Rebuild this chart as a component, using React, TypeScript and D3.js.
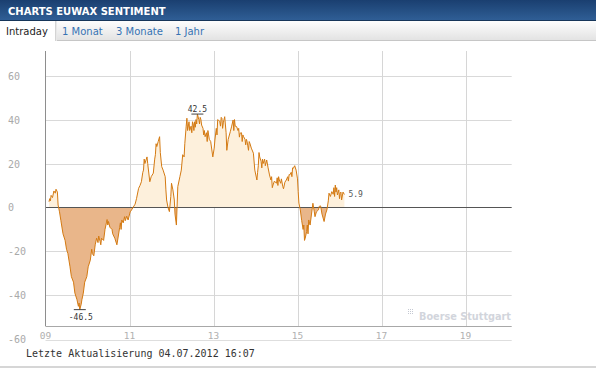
import React, { useEffect, useRef } from 'react';
import * as d3 from 'd3';

const title = 'CHARTS EUWAX SENTIMENT';
const tabs = ['Intraday', '1 Monat', '3 Monate', '1 Jahr'];
const yTicks = [60, 40, 20, 0, -20, -40, -60];
const xTicks = ['09:00', '11:00', '13:00', '15:00', '17:00', '19:00'];
const updated = 'Letzte Aktualisierung 04.07.2012 16:07';

// intraday sentiment (time, value)
const sentiment: [string, number][] = [
  ['09:05', 2.6], ['09:06', 4], ['09:07', 3], ['09:08', 5.5], ['09:10', 4.5], ['09:12', 7.5],
  ['09:14', 6.5], ['09:15', 8.3], ['09:17', 7], ['09:18', 1.1], ['09:20', -2], ['09:22', -6],
  ['09:25', -12], ['09:28', -15], ['09:30', -19], ['09:32', -21], ['09:35', -27], ['09:37', -31.5],
  ['09:40', -34], ['09:42', -39], ['09:45', -42], ['09:47', -45], ['09:48', -43.5], ['09:49', -46.5],
  ['09:51', -44], ['09:52', -42], ['09:54', -39], ['09:56', -34], ['09:59', -31.5], ['10:01', -27],
  ['10:04', -24], ['10:06', -19], ['10:07', -21], ['10:09', -22], ['10:11', -17], ['10:13', -14],
  ['10:15', -16], ['10:16', -13], ['10:18', -15.5], ['10:19', -17], ['10:20', -14], ['10:23', -15],
  ['10:25', -10], ['10:27', -7], ['10:28', -5.5], ['10:29', -8], ['10:30', -6.4], ['10:32', -9],
  ['10:35', -10], ['10:36', -12], ['10:39', -14], ['10:42', -17], ['10:44', -13], ['10:46', -9],
  ['10:47', -7], ['10:48', -10], ['10:49', -5.7], ['10:51', -7], ['10:53', -4.2], ['10:54', -6],
  ['10:56', -4], ['10:58', -5.7], ['11:01', -2], ['11:03', -1.1], ['11:08', 1.5], ['11:10', 4],
  ['11:13', 8.7], ['11:15', 10], ['11:17', 11.7], ['11:19', 16], ['11:20', 17], ['11:21', 22],
  ['11:22', 20], ['11:25', 23], ['11:26', 20], ['11:29', 11.7], ['11:31', 14], ['11:34', 15.6],
  ['11:36', 22], ['11:37', 24], ['11:38', 29], ['11:39', 27.7], ['11:41', 30], ['11:43', 32.2],
  ['11:44', 25], ['11:46', 18.6], ['11:48', 17], ['11:51', 14], ['11:52', 8], ['11:53', 3.4],
  ['11:55', 0], ['11:57', -1.9], ['11:59', 5], ['12:00', 11], ['12:02', 8], ['12:04', 3.4],
  ['12:05', -3], ['12:07', -8], ['12:09', 9.5], ['12:12', 14], ['12:14', 17], ['12:16', 24],
  ['12:18', 23], ['12:19', 29], ['12:21', 37], ['12:22', 40.6], ['12:23', 35], ['12:25', 39],
  ['12:26', 35], ['12:28', 37], ['12:29', 34], ['12:30', 39], ['12:31', 38], ['12:32', 35],
  ['12:33', 39], ['12:34', 36.5], ['12:35', 40], ['12:36', 38], ['12:37', 42.5], ['12:39', 40],
  ['12:40', 38], ['12:41', 41], ['12:42', 40], ['12:43', 37.5], ['12:45', 36], ['12:46', 33],
  ['12:47', 35], ['12:48', 32.2], ['12:50', 34], ['12:51', 30], ['12:52', 35], ['12:53', 33],
  ['12:54', 31], ['12:56', 30], ['12:59', 23], ['13:01', 27], ['13:02', 30.7], ['13:04', 36],
  ['13:05', 33], ['13:06', 40], ['13:07', 39.8], ['13:09', 39], ['13:10', 37], ['13:11', 41],
  ['13:12', 40.6], ['13:13', 36], ['13:14', 38.5], ['13:16', 41.3], ['13:18', 34], ['13:19', 26],
  ['13:21', 31], ['13:24', 34.5], ['13:26', 37], ['13:28', 39.8], ['13:29', 35], ['13:30', 40],
  ['13:31', 37], ['13:33', 36.8], ['13:35', 35], ['13:36', 36], ['13:37', 32], ['13:38', 33.8],
  ['13:40', 34], ['13:41', 30], ['13:42', 33], ['13:43', 32.2], ['13:45', 31], ['13:46', 28.5],
  ['13:47', 31], ['13:48', 30], ['13:49', 28], ['13:50', 26], ['13:51', 30], ['13:52', 29.2],
  ['13:54', 27], ['13:57', 24.7], ['13:59', 17], ['14:02', 12.5], ['14:03', 16], ['14:04', 19],
  ['14:05', 25], ['14:06', 23], ['14:08', 21], ['14:09', 18], ['14:10', 22], ['14:11', 20],
  ['14:13', 22], ['14:14', 19], ['14:16', 21.6], ['14:18', 18], ['14:20', 14.8], ['14:22', 12.5],
  ['14:23', 14], ['14:24', 9], ['14:25', 10.2], ['14:27', 12], ['14:30', 11], ['14:31', 13.5],
  ['14:32', 10], ['14:33', 14], ['14:34', 12.5], ['14:36', 11], ['14:37', 13], ['14:39', 9.5],
  ['14:40', 8.5], ['14:42', 11.5], ['14:44', 12.5], ['14:46', 14], ['14:47', 12], ['14:48', 15],
  ['14:49', 14.8], ['14:51', 16], ['14:52', 14], ['14:53', 18], ['14:54', 17.8], ['14:56', 19],
  ['14:58', 17], ['15:00', 13], ['15:01', 7.2], ['15:02', 2], ['15:04', -1.1], ['15:06', -6],
  ['15:08', -10], ['15:09', -8], ['15:10', -15], ['15:11', -14], ['15:13', -11], ['15:14', -8],
  ['15:15', -12], ['15:16', -5.7], ['15:18', -8], ['15:20', -3], ['15:22', 1.9], ['15:24', -2],
  ['15:25', -4.2], ['15:27', -2], ['15:30', -1.1], ['15:31', 0.5], ['15:33', 0.7], ['15:35', -3],
  ['15:38', -6.4], ['15:40', -3], ['15:42', -1.1], ['15:44', 3], ['15:45', 6.5], ['15:47', 5],
  ['15:49', 7.2], ['15:51', 6], ['15:52', 9], ['15:53', 5], ['15:54', 10.2], ['15:55', 7],
  ['15:56', 9], ['15:57', 5.7], ['15:59', 8], ['16:00', 4], ['16:01', 6.5], ['16:02', 7],
  ['16:03', 3.4], ['16:05', 7], ['16:07', 5.9]
];

const MONO = '"DejaVu Sans Mono", monospace';
const SANS = '"DejaVu Sans", Verdana, sans-serif';

export default function App() {
  const svgRef = useRef<SVGSVGElement>(null);

  useEffect(() => {
    if (!svgRef.current) return;
    const svg = d3.select(svgRef.current);
    svg.selectAll('*').remove();

    const width = 596;
    const parse = d3.timeParse('%H:%M');
    const data = sentiment.map(([t, v]) => ({ date: parse(t) as Date, value: v }));

    const left = 45.5;
    const right = 511.7;
    const top = 51;
    const bottomValue = -54;

    const x = d3.scaleTime()
      .domain([parse('09:00') as Date, parse('20:06') as Date])
      .range([left, right]);
    const y = d3.scaleLinear().domain([-60, 71.2]).range([339.3, top]);
    const y0 = y(0);
    const plotBottom = y(bottomValue);

    const defs = svg.append('defs');
    const hg = defs.append('linearGradient').attr('id', 'headGrad').attr('x1', 0).attr('y1', 0).attr('x2', 0).attr('y2', 1);
    hg.append('stop').attr('offset', '0%').attr('stop-color', '#1a3f70');
    hg.append('stop').attr('offset', '100%').attr('stop-color', '#2f5e95');
    const tg = defs.append('linearGradient').attr('id', 'tabGrad').attr('x1', 0).attr('y1', 0).attr('x2', 0).attr('y2', 1);
    tg.append('stop').attr('offset', '0%').attr('stop-color', '#fdfdfd');
    tg.append('stop').attr('offset', '100%').attr('stop-color', '#e3e3e3');
    defs.append('clipPath').attr('id', 'clipPos').append('rect')
      .attr('x', left).attr('y', top).attr('width', right - left).attr('height', y0 - top);
    defs.append('clipPath').attr('id', 'clipNeg').append('rect')
      .attr('x', left).attr('y', y0).attr('width', right - left).attr('height', plotBottom - y0);

    svg.append('rect').attr('width', width).attr('height', 373).attr('fill', '#fff');

    // header
    svg.append('rect').attr('x', 0).attr('y', 0).attr('width', width).attr('height', 20).attr('fill', 'url(#headGrad)');
    svg.append('line').attr('x1', 0).attr('x2', width).attr('y1', 20.5).attr('y2', 20.5).attr('stroke', '#163559');
    svg.append('text').attr('x', 8).attr('y', 14.5)
      .attr('fill', '#fff').attr('font-family', SANS).attr('font-weight', 'bold').attr('font-size', 10)
      .text(title);

    // tabs
    svg.append('rect').attr('x', 0).attr('y', 21).attr('width', width).attr('height', 19).attr('fill', 'url(#tabGrad)');
    svg.append('line').attr('x1', 0).attr('x2', width).attr('y1', 40.5).attr('y2', 40.5).attr('stroke', '#c6c6c6');
    svg.append('rect').attr('x', 0).attr('y', 21).attr('width', 55).attr('height', 20).attr('fill', '#fff');
    svg.append('line').attr('x1', 55.5).attr('x2', 55.5).attr('y1', 21).attr('y2', 41).attr('stroke', '#d4d4d4');
    svg.append('line').attr('x1', 56.5).attr('x2', 56.5).attr('y1', 21).attr('y2', 41).attr('stroke', '#e8e8e8');
    const tabX = [6, 62, 116, 175];
    tabs.forEach((t, i) => {
      svg.append('text').attr('x', tabX[i]).attr('y', 35)
        .attr('font-family', SANS).attr('font-size', 10)
        .attr('fill', i === 0 ? '#222' : '#3673b3')
        .text(t);
    });

    const g = svg.append('g');

    // grid
    g.selectAll('line.hgrid').data(yTicks.filter(d => d !== 0 && y(d) < plotBottom)).join('line')
      .attr('x1', left).attr('x2', right)
      .attr('y1', d => Math.round(y(d)) + 0.5).attr('y2', d => Math.round(y(d)) + 0.5)
      .attr('stroke', '#d9d9d9');
    g.selectAll('line.vgrid').data(xTicks.slice(1)).join('line')
      .attr('x1', d => Math.round(x(parse(d) as Date)) + 0.5).attr('x2', d => Math.round(x(parse(d) as Date)) + 0.5)
      .attr('y1', top).attr('y2', plotBottom)
      .attr('stroke', '#d6d6d6');

    // areas
    const area = d3.area<{ date: Date; value: number }>()
      .x(d => x(d.date)).y0(y0).y1(d => y(d.value));
    g.append('path').datum(data).attr('d', area).attr('fill', '#fdf0dc').attr('clip-path', 'url(#clipPos)');
    g.append('path').datum(data).attr('d', area).attr('fill', '#e9b68a').attr('clip-path', 'url(#clipNeg)');

    // zero line
    g.append('line').attr('x1', left).attr('x2', right)
      .attr('y1', Math.round(y0) + 0.5).attr('y2', Math.round(y0) + 0.5)
      .attr('stroke', '#555');

    const line = d3.line<{ date: Date; value: number }>().x(d => x(d.date)).y(d => y(d.value));
    g.append('path').datum(data).attr('d', line)
      .attr('fill', 'none').attr('stroke', '#d47a12').attr('stroke-width', 1).attr('stroke-linejoin', 'round');

    // axes frame
    g.append('line').attr('x1', left).attr('x2', left).attr('y1', top).attr('y2', plotBottom).attr('stroke', '#8e8e8e');
    g.append('line').attr('x1', left).attr('x2', right)
      .attr('y1', Math.round(plotBottom) + 0.5).attr('y2', Math.round(plotBottom) + 0.5).attr('stroke', '#a8a8a8');
    g.append('line').attr('x1', left).attr('x2', right).attr('y1', 340.5).attr('y2', 340.5).attr('stroke', '#dedede');

    // tick labels
    g.selectAll('text.ylab').data(yTicks).join('text')
      .attr('x', 8).attr('y', d => y(d) + 4)
      .attr('font-family', MONO).attr('font-size', 10).attr('fill', '#a9a9a9')
      .text(d => String(d));
    g.selectAll('text.xlab').data(xTicks).join('text')
      .attr('x', d => x(parse(d) as Date)).attr('y', 339)
      .attr('text-anchor', 'middle')
      .attr('font-family', MONO).attr('font-size', 9.5).attr('fill', '#b0b0b0')
      .text(d => d.slice(0, 2));

    // min / max / last
    const maxD = data.reduce((a, b) => (b.value > a.value ? b : a));
    const minD = data.reduce((a, b) => (b.value < a.value ? b : a));
    const lastD = data[data.length - 1];

    g.append('line').attr('x1', x(maxD.date) - 6).attr('x2', x(maxD.date) + 6)
      .attr('y1', y(maxD.value)).attr('y2', y(maxD.value)).attr('stroke', '#444');
    g.append('text').attr('x', x(maxD.date)).attr('y', y(maxD.value) - 2)
      .attr('text-anchor', 'middle').attr('font-family', MONO).attr('font-size', 8).attr('fill', '#333')
      .text(maxD.value.toFixed(1));

    g.append('line').attr('x1', x(minD.date) - 6).attr('x2', x(minD.date) + 6)
      .attr('y1', y(minD.value)).attr('y2', y(minD.value)).attr('stroke', '#444');
    g.append('text').attr('x', x(minD.date) + 1).attr('y', y(minD.value) + 10)
      .attr('text-anchor', 'middle').attr('font-family', MONO).attr('font-size', 8).attr('fill', '#333')
      .text(minD.value.toFixed(1));

    g.append('text').attr('x', x(lastD.date) + 4).attr('y', y(lastD.value) + 3)
      .attr('font-family', MONO).attr('font-size', 8).attr('fill', '#555')
      .text(lastD.value.toFixed(1));

    // watermark
    const wm = g.append('g').attr('transform', 'translate(408,309)');
    [0, 2, 4].forEach(dx => [0, 2, 4].forEach(dy => {
      wm.append('rect').attr('x', dx).attr('y', dy).attr('width', 1).attr('height', 1).attr('fill', '#c4c8d2');
    }));
    g.append('text').attr('x', 419).attr('y', 319.5)
      .attr('font-family', SANS).attr('font-weight', 'bold').attr('font-size', 10.5).attr('fill', '#d2d5dc')
      .attr('textLength', 92).attr('lengthAdjust', 'spacingAndGlyphs')
      .text('Boerse Stuttgart');

    // footer
    svg.append('text').attr('x', 26).attr('y', 357)
      .attr('font-family', MONO).attr('font-size', 10).attr('fill', '#333')
      .text(updated);
    svg.append('line').attr('x1', 0).attr('x2', width).attr('y1', 367).attr('y2', 367)
      .attr('stroke', '#d6d6d6').attr('stroke-width', 2);
  }, []);

  return (
    <svg
      ref={svgRef}
      width={596}
      height={373}
      style={{ position: 'absolute', left: 0, top: 0, display: 'block' }}
    />
  );
}
